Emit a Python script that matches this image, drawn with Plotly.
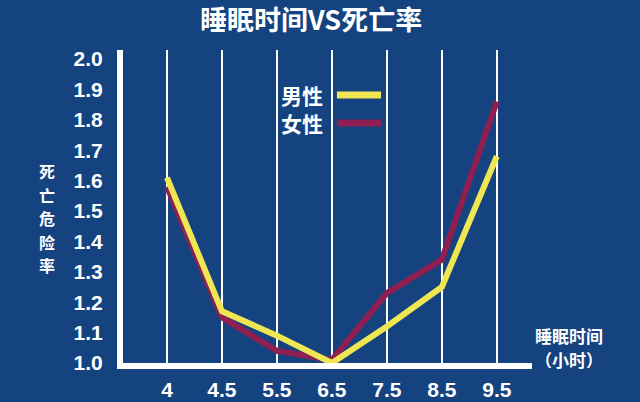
import plotly.graph_objects as go

# sleep hours (categories) and relative death risk
hours = ["4", "4.5", "5.5", "6.5", "7.5", "8.5", "9.5"]
male = [1.61, 1.17, 1.09, 1.00, 1.12, 1.25, 1.68]
female = [1.58, 1.15, 1.04, 1.01, 1.23, 1.34, 1.86]
y_ticks = [1.0, 1.1, 1.2, 1.3, 1.4, 1.5, 1.6, 1.7, 1.8, 1.9, 2.0]
y_title = "死亡危险率"
x_title = ["睡眠时间", "（小时）"]

BG = "#15437f"
YELLOW = "#eee653"
RED = "#8f1f50"
CJK = "Noto Sans CJK SC"
NUM = "Liberation Sans, Noto Sans CJK SC"

fig = go.Figure()
fig.add_trace(go.Scatter(x=hours, y=female, name="女性", mode="lines",
                         line=dict(color=RED, width=6)))
fig.add_trace(go.Scatter(x=hours, y=male, name="男性", mode="lines",
                         line=dict(color=YELLOW, width=6)))

fig.update_layout(
    width=640, height=402,
    margin=dict(l=123, r=108, t=50, b=39),
    paper_bgcolor=BG, plot_bgcolor=BG,
    showlegend=False,
    title=dict(text="<b>睡眠时间VS死亡率</b>", x=0.486, xanchor="center",
               y=0.95, yanchor="middle",
               font=dict(family=CJK, size=27, color="white")),
)

fig.update_xaxes(
    type="category", range=[-0.8, 6.64], automargin=False,
    showgrid=True, gridcolor="white", gridwidth=2,
    showline=True, linecolor="white", linewidth=6,
    zeroline=False, ticks="", ticklabelstandoff=3,
    tickfont=dict(family=NUM, size=21, color="white", weight="bold"),
)
fig.update_yaxes(
    range=[1.0, 2.0296], automargin=False,
    tickvals=y_ticks, ticktext=[f"{v:.1f}" for v in y_ticks],
    showgrid=False, zeroline=False,
    showline=True, linecolor="white", linewidth=6,
    ticks="", ticklabelstandoff=10,
    tickfont=dict(family=NUM, size=21, color="white", weight="bold"),
)

# y-axis title, one character per row
for i, ch in enumerate(y_title):
    fig.add_annotation(text=f"<b>{ch}</b>", xref="paper", yref="paper",
                       x=-0.186, y=0.613 - i * 0.075, xanchor="center", yanchor="middle",
                       showarrow=False, font=dict(family=CJK, size=16, color="white"))
# x-axis title at the right end of the axis, two rows
for i, line in enumerate(x_title):
    fig.add_annotation(text=f"<b>{line}</b>", xref="paper", yref="paper",
                       x=1.09, y=0.087 - i * 0.076, xanchor="center", yanchor="middle",
                       showarrow=False, font=dict(family=CJK, size=17, color="white"))

# legend drawn by hand: label on the left, line sample on the right
for label, color, ly in [("男性", YELLOW, 0.856), ("女性", RED, 0.767)]:
    fig.add_annotation(text=f"<b>{label}</b>", xref="paper", yref="paper",
                       x=0.494, y=ly, xanchor="right", yanchor="middle",
                       showarrow=False, font=dict(family=CJK, size=21, color="white"))
    fig.add_shape(type="line", xref="paper", yref="paper",
                  x0=0.523, x1=0.631, y0=ly, y1=ly,
                  line=dict(color=color, width=7))

# drop the page's default body margin so the figure fills the window
fig.write_html("out.html", config={"displayModeBar": False},
               post_script="document.body.style.margin='0';")
